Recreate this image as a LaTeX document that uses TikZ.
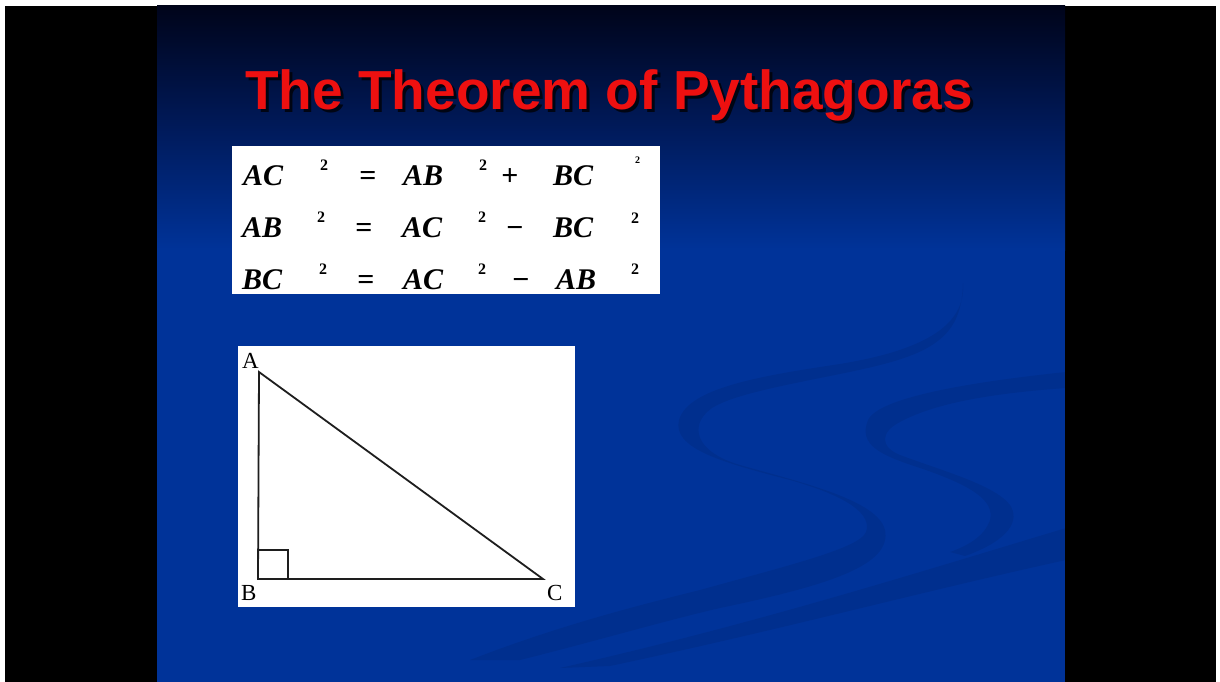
\documentclass[tikz,border=0pt]{standalone}
\usepackage{fontspec}
\setmainfont{Liberation Serif}
\newfontfamily\titlefont{Liberation Sans}
\definecolor{slideblue}{RGB}{0,51,153}
\definecolor{slidetop}{RGB}{0,4,26}
\definecolor{slidemid}{RGB}{0,26,90}
\definecolor{titlered}{RGB}{238,16,16}
\definecolor{lineink}{RGB}{30,30,30}
\tikzset{
  swoosh/.style={fill=black, fill opacity=0.07, draw=none},
  eqtxt/.style={anchor=base west, inner sep=0pt, font=\fontsize{30}{32}\selectfont\bfseries\itshape},
  eqsup/.style={anchor=base west, inner sep=0pt, font=\fontsize{16}{18}\selectfont\bfseries},
  eqsmall/.style={anchor=base west, inner sep=0pt, font=\fontsize{10}{12}\selectfont\bfseries},
  eqop/.style={anchor=base, inner sep=0pt, font=\fontsize{30}{32}\selectfont\bfseries},
  vlabel/.style={anchor=base west, inner sep=0pt, font=\fontsize{23}{25}\selectfont},
  tri/.style={draw=lineink, line width=1.8pt, line join=miter},
}
\begin{document}
\begin{tikzpicture}[x=1pt,y=-1pt]
\useasboundingbox (0,0) rectangle (1220,682);
\fill[white] (0,0) rectangle (1220,682);
\fill[black] (5,6) rectangle (1216,682);
% slide background
\shade[top color=slidetop, bottom color=slideblue, middle color=slidemid] (157,6) rectangle (1065,250);
\fill[slideblue] (157,249.5) rectangle (1065,682);
% swooshes
\begin{scope}
\clip (157,6) rectangle (1065,682);
\path[swoosh] (963,283) .. controls (966,325) and (925,350) .. (840,364)
  .. controls (760,376) and (688,388) .. (679,420)
  .. controls (672,448) and (720,462) .. (790,480)
  .. controls (850,497) and (872,515) .. (866,532)
  .. controls (860,548) and (790,565) .. (700,590)
  .. controls (640,605) and (560,625) .. (470,660)
  -- (520,660)
  .. controls (600,640) and (660,622) .. (720,608)
  .. controls (830,585) and (892,565) .. (885,530)
  .. controls (878,500) and (800,482) .. (740,465)
  .. controls (695,452) and (688,425) .. (712,408)
  .. controls (740,390) and (830,378) .. (880,365)
  .. controls (940,350) and (962,330) .. (963,283) -- cycle;
\path[swoosh] (1066,372) .. controls (990,380) and (880,395) .. (868,420)
  .. controls (858,445) and (880,455) .. (920,468)
  .. controls (970,485) and (995,500) .. (990,520)
  .. controls (985,535) and (970,545) .. (950,552)
  -- (965,556)
  .. controls (1010,540) and (1020,520) .. (1010,505)
  .. controls (995,485) and (940,470) .. (900,455)
  .. controls (880,447) and (880,432) .. (900,422)
  .. controls (940,400) and (1010,392) .. (1066,388) -- cycle;
\path[swoosh] (1066,528) .. controls (900,578) and (750,625) .. (560,668)
  -- (610,666) .. controls (780,630) and (920,592) .. (1066,560) -- cycle;
\end{scope}
% title
\node[anchor=base, inner sep=0pt, text=black, opacity=0.75, font=\titlefont\fontsize{55}{60}\selectfont\bfseries] (titleshadow) at (612,113) {The Theorem of Pythagoras};
\node[anchor=base, inner sep=0pt, text=titlered, font=\titlefont\fontsize{55}{60}\selectfont\bfseries] (title) at (609,110) {The Theorem of Pythagoras};
% equations box
\fill[white] (232,146) rectangle (660,294);
% row 1
\node[eqtxt] (r1a) at (243,185) {AC};
\node[eqsup] (r1s1) at (320,170) {2};
\node[eqop] (r1eq) at (368,185) {=};
\node[eqtxt] (r1b) at (403,185) {AB};
\node[eqsup] (r1s2) at (479,170) {2};
\node[eqop] (r1op) at (510,185) {+};
\node[eqtxt] (r1c) at (553,185) {BC};
\node[eqsmall] (r1s3) at (635,164) {2};
% row 2
\node[eqtxt] (r2a) at (242,237) {AB};
\node[eqsup] (r2s1) at (317,222) {2};
\node[eqop] (r2eq) at (364,237) {=};
\node[eqtxt] (r2b) at (402,237) {AC};
\node[eqsup] (r2s2) at (478,222) {2};
\node[eqop] (r2op) at (515,237) {−};
\node[eqtxt] (r2c) at (553,237) {BC};
\node[eqsup] (r2s3) at (631,223) {2};
% row 3
\node[eqtxt] (r3a) at (242,289) {BC};
\node[eqsup] (r3s1) at (319,274) {2};
\node[eqop] (r3eq) at (366,289) {=};
\node[eqtxt] (r3b) at (403,289) {AC};
\node[eqsup] (r3s2) at (478,274) {2};
\node[eqop] (r3op) at (521,289) {−};
\node[eqtxt] (r3c) at (556,289) {AB};
\node[eqsup] (r3s3) at (631,274) {2};
% triangle box
\fill[white] (238,346) rectangle (575,607);
\coordinate (A) at (259,372);
\coordinate (B) at (258,579);
\coordinate (C) at (543,579);
\draw[tri] (A) -- (B) -- (C) -- cycle;
\draw[draw=lineink, line width=1.5pt] (258,550) rectangle (288,579);
\node[vlabel] (la) at (242,368) {A};
\node[vlabel] (lb) at (241,600) {B};
\node[vlabel] (lc) at (547,600) {C};
\end{tikzpicture}
\end{document}
